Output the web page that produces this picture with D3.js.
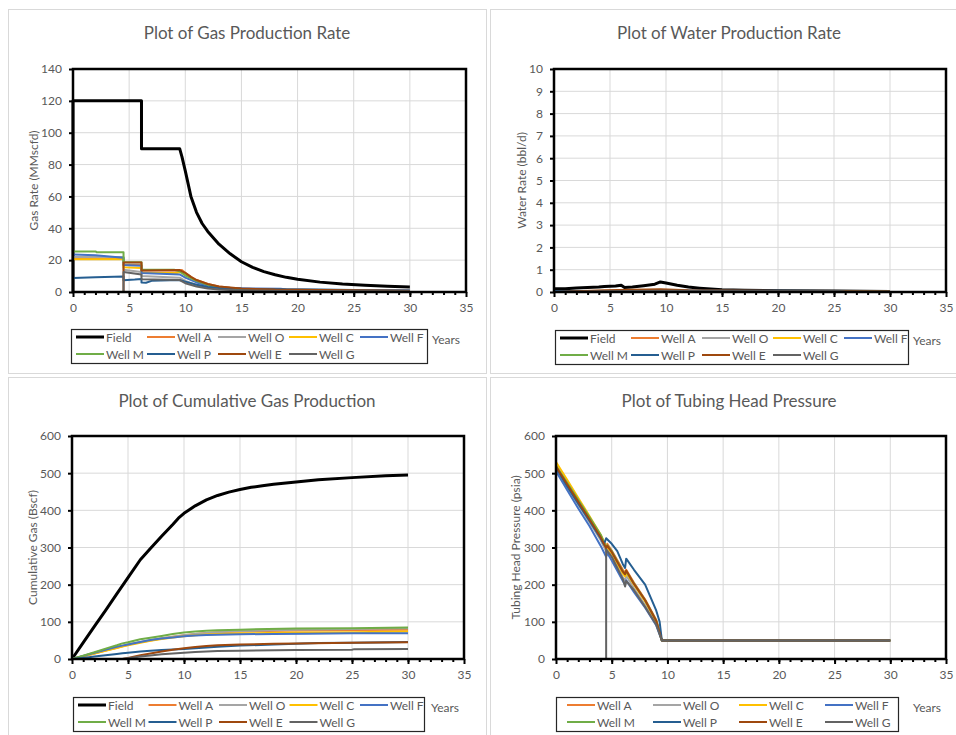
<!DOCTYPE html>
<html>
<head>
<meta charset="utf-8">
<script src="https://cdn.jsdelivr.net/npm/d3@7"></script>
<style>
  body { margin: 0; background: #fff; }
  svg { display: block; }
  text { font-family: Lato, "Open Sans", sans-serif; fill: #595959; }
</style>
</head>
<body>
<div id="chart"></div>
<script>
// series names and colours (Excel default palette, Field in black)
var seriesNames = ["Field", "Well A", "Well O", "Well C", "Well F", "Well M", "Well P", "Well E", "Well G"];
var seriesColors = ["#000000", "#ED7D31", "#A5A5A5", "#FFC000", "#4472C4", "#70AD47", "#255E91", "#9E480E", "#636363"];

var xTicks = [0, 5, 10, 15, 20, 25, 30, 35];

// ---- gas production rate (MMscfd) ----
var gasField = [[0,0],[0,120],[6.1,120],[6.1,90],[9.5,90],[9.7,85],[10,76],[10.5,60],[11,50],[11.5,43],[12,38],[13,30],[14,24],[15,19],[16,15.5],[17,12.8],[18,10.8],[19,9.2],[20,8],[22,6.2],[24,5],[26,4.2],[28,3.6],[30,3.2]];
var gasA = [[0,21],[4.5,21],[4.5,17],[6.1,17],[6.1,13.5],[9.3,13.5],[9.7,13.8],[10,12],[10.5,9.5],[11,7.5],[12,5],[13,3.5],[14,2.6],[15,2],[17,1.5],[20,1.1],[25,0.8],[30,0.6]];
var gasO = [[0,22],[4.5,22],[4.5,14],[5,13.5],[6.1,12.5],[6.1,10],[9.5,9],[10,7],[11,4.5],[12,3],[13,2],[15,1.3],[20,0.8],[30,0.5]];
var gasC = [[0,20.5],[4.5,20.5],[4.5,15.5],[6.1,15],[6.1,12],[9.3,12],[9.6,12.5],[10,10.5],[11,7],[12,4.5],[13,3],[15,1.8],[20,1],[30,0.6]];
var gasF = [[0,23.5],[2,23],[4.5,21.5],[4.5,17],[6.1,16.5],[6.1,12],[9.5,11],[10,9],[11,6],[12,4],[13,3],[14,2.5],[16,2.2],[18.5,2],[19,1.5],[22,1.2],[30,1]];
var gasM = [[0,0],[0,25.5],[2,25.5],[2.1,25],[4.5,25],[4.5,18.7],[6.1,18.7],[6.1,14],[9,14],[9.5,13],[10,10.5],[11,7],[12,4.5],[13,3],[15,1.6],[20,0.9],[30,0.5]];
var gasP = [[0,8.8],[2,9.3],[4.5,9.8],[4.5,7.3],[5.5,7.8],[6.1,8.2],[6.1,6],[6.5,5.8],[7,7],[9.5,7.5],[10,6.5],[11,4.5],[12,3.2],[13,2.5],[15,2],[18,1.8],[22,1.5],[25,1.2],[30,1]];
var gasE = [[0,0],[4.5,0],[4.5,18.5],[6.1,18.5],[6.1,13.5],[9.5,13.8],[10,12],[10.5,9.5],[11,7.5],[12,5],[13,3.5],[15,2.2],[18,1.5],[22,1.2],[30,0.8]];
var gasG = [[0,0],[4.5,0],[4.5,12.5],[6.1,11],[6.1,8],[9.5,7.5],[10,5.5],[11,3.5],[12,2.2],[13,1.5],[15,1],[20,0.6],[30,0.4]];

// ---- water production rate (bbl/d) ----
var waterField = [[0,0.15],[1,0.15],[2,0.18],[3,0.2],[4,0.22],[4.5,0.25],[5.5,0.27],[6,0.3],[6.3,0.2],[7,0.22],[8,0.28],[9,0.35],[9.5,0.45],[10,0.4],[11,0.3],[12,0.22],[13,0.17],[14,0.13],[15,0.1],[17,0.08],[20,0.06],[25,0.04],[30,0.02]];
var waterA = [[0,0],[4.5,0.03],[6,0.05],[9.5,0.08],[12,0.05],[20,0.03],[30,0.01]];
var waterO = [[0,0.02],[9.5,0.05],[20,0.02],[30,0.01]];
var waterC = [[0,0.02],[9.5,0.05],[20,0.02],[30,0.01]];
var waterF = [[0,0.03],[9.5,0.06],[20,0.03],[30,0.01]];
var waterM = [[0,0.03],[9.5,0.05],[20,0.02],[30,0.01]];
var waterP = [[0,0.05],[4.5,0.05],[9.5,0.07],[17,0.06],[24,0.05],[25,0.02],[30,0.01]];
var waterE = [[0,0],[4.5,0.08],[9.5,0.12],[12,0.08],[20,0.05],[30,0.02]];
var waterG = [[0,0],[4.5,0.03],[9.5,0.06],[25.5,0.05],[26,0.02],[30,0.01]];

// ---- cumulative gas (Bscf) ----
var cumField = [[0,0],[1,44],[2,88],[3,131],[4,175],[5,219],[6.1,267],[7,297],[8,330],[9,362],[9.5,379],[10,392],[11,412],[12,428],[13,440],[14,449],[15,456],[16,462],[17,466],[18,470],[20,476],[22,482],[25,488],[28,493],[30,495]];
var cumA = [[0,0],[1,7.5],[2,15],[3,23],[4,30.5],[4.5,34.5],[5,38],[6.1,45],[7,50],[8,55],[9,60],[10,64],[11,67],[12,70],[13,72],[15,74],[20,77],[25,78],[30,79]];
var cumO = [[0,0],[1,8],[2,16],[3,24],[4,32],[4.5,36],[5,40],[6.1,46],[7,51],[8,56],[9,60],[10,64],[11,67],[12,70],[13,72],[15,75],[20,79],[25,81],[30,83]];
var cumC = [[0,0],[1,7],[2,14.5],[3,22],[4,29.5],[4.5,33.5],[5,37],[6.1,44],[7,49],[8,54],[9,58],[10,61],[11,64],[12,66],[13,67.5],[15,69],[20,71],[25,72],[30,74]];
var cumF = [[0,0],[1,8.5],[2,17],[3,25],[4,33],[4.5,36],[5,39],[6.1,46],[7,51],[8,55],[9,58],[10,61],[11,63],[12,64.5],[13,65.5],[15,66.5],[18,67.5],[21,68],[25,69],[30,69]];
var cumM = [[0,0],[1,9],[2,18],[3,28],[4,37],[4.5,42],[5,45],[6.1,53],[7,57],[8,62],[9,67],[9.5,69],[10,71],[11,74],[12,76],[13,77.5],[15,79],[20,82],[25,83],[30,85]];
var cumP = [[0,0],[1,3],[2,6.5],[3,10],[4,13.5],[4.5,15.5],[5,17],[6.1,20],[7,22],[8,24],[9,25.5],[10,27],[11,29],[12,31],[13,33],[15,36],[18,39],[20,41],[22,43],[25,44],[30,46]];
var cumE = [[0,0],[4.5,0],[5,3],[6.1,10],[7,15],[8,20],[9,25],[10,29],[11,32],[12,35],[13,37],[15,39],[18,41],[20,42],[25,44],[30,45]];
var cumG = [[0,0],[4.5,0],[5,2],[6.1,6.5],[7,9.5],[8,12.5],[9,15],[10,17],[11,19],[12,20.5],[13,21.5],[15,22.5],[20,24],[25,25],[25.2,26.5],[30,27]];

// ---- tubing head pressure (psia), no Field series ----
var thpA = [[0,520],[1,472],[2,425],[3,378],[4,330],[4.5,300],[4.6,310],[5,292],[6,240],[6.2,232],[6.3,240],[7,205],[8,160],[9,105],[9.5,50],[30,50]];
var thpO = [[0,510],[1,462],[2,415],[3,368],[4,320],[4.5,290],[4.6,300],[5,280],[6,220],[6.2,210],[6.3,225],[7,190],[8,145],[9,95],[9.5,50],[30,50]];
var thpC = [[0,530],[1,482],[2,433],[3,385],[4,335],[4.5,305],[4.6,300],[5,285],[6,230],[6.2,222],[6.3,232],[7,200],[8,155],[9,100],[9.5,50],[30,50]];
var thpF = [[0,505],[1,455],[2,405],[3,358],[4,305],[4.5,275],[4.6,285],[5,265],[6,210],[6.2,200],[6.3,212],[7,180],[8,138],[9,90],[9.5,50],[30,50]];
var thpM = [[0,520],[1,474],[2,428],[3,382],[4,335],[4.5,300],[4.6,306],[5,290],[6,236],[6.2,228],[6.3,236],[7,203],[8,158],[9,103],[9.5,50],[30,50]];
var thpP = [[0,515],[1,465],[2,418],[3,372],[4,325],[4.3,308],[4.5,325],[5,310],[5.5,290],[6,255],[6.2,245],[6.3,270],[7,240],[8,200],[9,130],[9.3,100],[9.5,50],[30,50]];
var thpE = [[0,518],[1,470],[2,423],[3,376],[4,328],[4.5,298],[4.6,305],[5,288],[6,235],[6.2,228],[6.3,238],[7,202],[8,158],[9,102],[9.5,50],[30,50]];
var thpG = [[0,0],[4.5,0],[4.5,295],[5,275],[6,215],[6.2,195],[6.3,210],[7,185],[8,140],[9,92],[9.5,50],[30,50]];

var svg = d3.select("#chart").append("svg")
  .attr("width", 956)
  .attr("height", 735);

// chart object frames
var frames = [[8, 9, 478, 364], [490, 9, 470, 364], [8, 377, 478, 362], [490, 377, 470, 362]];
svg.selectAll(".frame")
  .data(frames)
  .enter()
  .append("rect")
  .attr("class", "frame")
  .attr("x", function(d) { return d[0] + 0.5; })
  .attr("y", function(d) { return d[1] + 0.5; })
  .attr("width", function(d) { return d[2]; })
  .attr("height", function(d) { return d[3]; })
  .attr("fill", "#fff")
  .attr("stroke", "#d9d9d9");

function drawPanel(cfg) {
  var g = svg.append("g");

  var x = d3.scaleLinear().domain([0, 35]).range([cfg.left, cfg.right]);
  var y = d3.scaleLinear().domain([0, cfg.yMax]).range([cfg.bottom, cfg.top]);

  // gridlines
  g.append("g").selectAll("line")
    .data(xTicks.slice(1, -1))
    .enter().append("line")
    .attr("x1", function(d) { return x(d); })
    .attr("x2", function(d) { return x(d); })
    .attr("y1", cfg.top)
    .attr("y2", cfg.bottom)
    .attr("stroke", "#d9d9d9");

  g.append("g").selectAll("line")
    .data(cfg.yTicks.slice(1, -1))
    .enter().append("line")
    .attr("x1", cfg.left)
    .attr("x2", cfg.right)
    .attr("y1", function(d) { return y(d); })
    .attr("y2", function(d) { return y(d); })
    .attr("stroke", "#d9d9d9");

  // series
  var line = d3.line()
    .x(function(d) { return x(d[0]); })
    .y(function(d) { return y(d[1]); });

  cfg.series.forEach(function(s) {
    g.append("path")
      .attr("d", line(s.values))
      .attr("fill", "none")
      .attr("stroke", s.color)
      .attr("stroke-width", s.name == "Field" ? 3 : 2)
      .attr("stroke-linejoin", "round");
  });

  // plot frame
  g.append("rect")
    .attr("x", cfg.left)
    .attr("y", cfg.top)
    .attr("width", cfg.right - cfg.left)
    .attr("height", cfg.bottom - cfg.top)
    .attr("fill", "none")
    .attr("stroke", "#000")
    .attr("stroke-width", 2.5);

  // axes
  var yAxis = g.append("g")
    .attr("transform", "translate(" + cfg.left + ",0)")
    .call(d3.axisLeft(y).tickValues(cfg.yTicks).tickSize(4).tickPadding(7));
  var xAxis = g.append("g")
    .attr("transform", "translate(0," + cfg.bottom + ")")
    .call(d3.axisBottom(x).tickValues(xTicks).tickSize(5).tickPadding(6));
  var xMinor = g.append("g")
    .attr("transform", "translate(0," + cfg.bottom + ")")
    .call(d3.axisBottom(x).tickValues(d3.range(1, 35)).tickSize(3).tickFormat(""));

  [yAxis, xAxis, xMinor].forEach(function(a) {
    a.select(".domain").remove();
    a.selectAll(".tick line").attr("stroke", "#000").attr("stroke-width", 2);
    a.selectAll("text")
      .attr("fill", "#595959")
      .attr("font-size", "12px")
      .attr("font-family", "Lato, sans-serif");
  });

  // title
  g.append("text")
    .attr("x", cfg.titleX)
    .attr("y", cfg.titleY)
    .attr("text-anchor", "middle")
    .attr("dominant-baseline", "central")
    .attr("font-size", "17px")
    .text(cfg.title);

  // y axis title
  g.append("text")
    .attr("transform", "translate(" + cfg.yTitleX + "," + (cfg.top + cfg.bottom) / 2 + ") rotate(-90)")
    .attr("text-anchor", "middle")
    .attr("dominant-baseline", "central")
    .attr("font-size", "12px")
    .text(cfg.yTitle);

  // legend
  var lg = cfg.legend;
  g.append("rect")
    .attr("x", lg.x + 0.5)
    .attr("y", lg.y + 0.5)
    .attr("width", lg.w)
    .attr("height", lg.h)
    .attr("fill", "#fff")
    .attr("stroke", "#262626")
    .attr("stroke-width", 1.2);

  var items = g.selectAll(".legend-item")
    .data(cfg.series)
    .enter()
    .append("g")
    .attr("class", "legend-item")
    .attr("transform", function(d, i) {
      var col = i % lg.cols;
      var row = Math.floor(i / lg.cols);
      return "translate(" + (lg.x + lg.first + col * lg.pitch) + "," + (lg.y + 8 + row * 17) + ")";
    });

  items.append("line")
    .attr("x1", 0)
    .attr("x2", 28)
    .attr("stroke", function(d) { return d.color; })
    .attr("stroke-width", function(d) { return d.name == "Field" ? 3 : 2; });

  items.append("text")
    .attr("x", 30)
    .attr("dominant-baseline", "central")
    .attr("font-size", "12px")
    .text(function(d) { return d.name; });

  g.append("text")
    .attr("x", cfg.yearsX)
    .attr("y", cfg.yearsY)
    .attr("dominant-baseline", "central")
    .attr("font-size", "12px")
    .text("Years");
}

function makeSeries(lists, names, colors) {
  return lists.map(function(v, i) {
    return { name: names[i], color: colors[i], values: v };
  });
}

drawPanel({
  left: 73, right: 466, top: 69, bottom: 292,
  yMax: 140, yTicks: [0, 20, 40, 60, 80, 100, 120, 140],
  title: "Plot of Gas Production Rate", titleX: 247, titleY: 32,
  yTitle: "Gas Rate (MMscfd)", yTitleX: 33,
  legend: { x: 71, y: 329, w: 356, h: 34, cols: 5, pitch: 71, first: 5 },
  yearsX: 432, yearsY: 339,
  series: makeSeries([gasField, gasA, gasO, gasC, gasF, gasM, gasP, gasE, gasG], seriesNames, seriesColors)
});

drawPanel({
  left: 554, right: 946, top: 69, bottom: 292,
  yMax: 10, yTicks: [0, 1, 2, 3, 4, 5, 6, 7, 8, 9, 10],
  title: "Plot of Water Production Rate", titleX: 729, titleY: 32,
  yTitle: "Water Rate (bbl/d)", yTitleX: 521,
  legend: { x: 555, y: 330, w: 353, h: 34, cols: 5, pitch: 71, first: 5 },
  yearsX: 913, yearsY: 340,
  series: makeSeries([waterField, waterA, waterO, waterC, waterF, waterM, waterP, waterE, waterG], seriesNames, seriesColors)
});

drawPanel({
  left: 72, right: 464, top: 436, bottom: 659,
  yMax: 600, yTicks: [0, 100, 200, 300, 400, 500, 600],
  title: "Plot of Cumulative Gas Production", titleX: 247, titleY: 400,
  yTitle: "Cumulative Gas (Bscf)", yTitleX: 32,
  legend: { x: 73, y: 697, w: 351, h: 34, cols: 5, pitch: 70.5, first: 5 },
  yearsX: 431, yearsY: 707,
  series: makeSeries([cumField, cumA, cumO, cumC, cumF, cumM, cumP, cumE, cumG], seriesNames, seriesColors)
});

drawPanel({
  left: 556, right: 946, top: 436, bottom: 659,
  yMax: 600, yTicks: [0, 100, 200, 300, 400, 500, 600],
  title: "Plot of Tubing Head Pressure", titleX: 729, titleY: 400,
  yTitle: "Tubing Head Pressure (psia)", yTitleX: 515,
  legend: { x: 556, y: 697, w: 342, h: 34, cols: 4, pitch: 86, first: 11 },
  yearsX: 913, yearsY: 707,
  series: makeSeries([thpA, thpO, thpC, thpF, thpM, thpP, thpE, thpG], seriesNames.slice(1), seriesColors.slice(1))
});
</script>
</body>
</html>
